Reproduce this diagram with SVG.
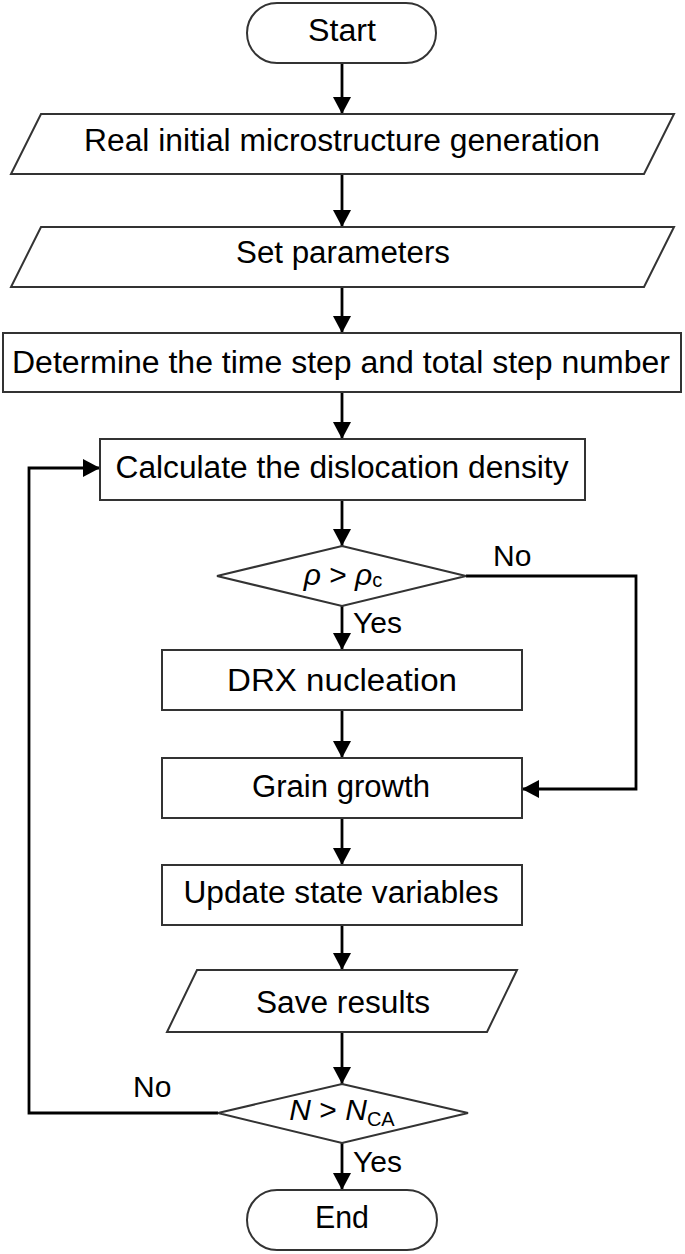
<svg xmlns="http://www.w3.org/2000/svg" width="685" height="1254" viewBox="0 0 685 1254">
<style>
.shape{fill:#fff;stroke:#333;stroke-width:2}
.t{font-family:"Liberation Sans",Arial,sans-serif;font-size:31px;fill:#000;text-anchor:middle}
.lbl{font-family:"Liberation Sans",Arial,sans-serif;font-size:30px;fill:#000}
.it{font-style:italic}
.sub{font-size:20px}
.c{fill:none;stroke:#000;stroke-width:2.8;marker-end:url(#ah)}
</style>
<defs>
<marker id="ah" markerUnits="userSpaceOnUse" markerWidth="17" markerHeight="18" refX="17" refY="9" orient="auto">
<path d="M0,0 L17,9 L0,18 z" fill="#000"/>
</marker>
</defs>
<rect width="685" height="1254" fill="#fff"/>
<g id="connectors">
<line class="c" x1="342" y1="63" x2="342" y2="114"/>
<line class="c" x1="342" y1="174" x2="342" y2="227"/>
<line class="c" x1="342" y1="287" x2="342" y2="333"/>
<line class="c" x1="342" y1="392" x2="342" y2="439"/>
<line class="c" x1="342" y1="500" x2="342" y2="546"/>
<line class="c" x1="342" y1="606" x2="342" y2="650"/>
<line class="c" x1="342" y1="710" x2="342" y2="758"/>
<line class="c" x1="342" y1="818" x2="342" y2="865"/>
<line class="c" x1="342" y1="925" x2="342" y2="970"/>
<line class="c" x1="342" y1="1032" x2="342" y2="1084"/>
<line class="c" x1="342" y1="1143" x2="342" y2="1190"/>
<polyline class="c" points="466,576 636,576 636,789 522,789"/>
<polyline class="c" points="218,1113 29,1113 29,468 100,468"/>
<text class="lbl" x="493" y="566">No</text>
<text class="lbl" x="353" y="633">Yes</text>
<text class="lbl" x="133" y="1097">No</text>
<text class="lbl" x="353" y="1172">Yes</text>
</g>
<g id="start">
<rect class="shape" x="247" y="3" width="189" height="60" rx="30" ry="30"/>
<text class="t" x="342" y="41" textLength="68" lengthAdjust="spacingAndGlyphs">Start</text>
</g>
<g id="microstructure">
<polygon class="shape" points="41,114 674,114 644,174 11,174"/>
<text class="t" x="342" y="151" textLength="516" lengthAdjust="spacingAndGlyphs">Real initial microstructure generation</text>
</g>
<g id="parameters">
<polygon class="shape" points="41,227 674,227 644,287 11,287"/>
<text class="t" x="343" y="263" textLength="214" lengthAdjust="spacingAndGlyphs">Set parameters</text>
</g>
<g id="timestep">
<rect class="shape" x="3" y="333" width="678" height="59"/>
<text class="t" x="341" y="373" textLength="658" lengthAdjust="spacingAndGlyphs">Determine the time step and total step number</text>
</g>
<g id="dislocation">
<rect class="shape" x="100" y="439" width="485" height="61"/>
<text class="t" x="342" y="478" textLength="453" lengthAdjust="spacingAndGlyphs">Calculate the dislocation density</text>
</g>
<g id="decision1">
<polygon class="shape" points="342,546 466,576 342,606 217,576"/>
<text class="lbl" x="343" y="585" text-anchor="middle"><tspan class="it">ρ</tspan> &gt; <tspan class="it">ρ</tspan><tspan class="sub" dy="2">c</tspan></text>
</g>
<g id="drx">
<rect class="shape" x="162" y="650" width="360" height="60"/>
<text class="t" x="342" y="691" textLength="230" lengthAdjust="spacingAndGlyphs">DRX nucleation</text>
</g>
<g id="grain">
<rect class="shape" x="162" y="758" width="360" height="60"/>
<text class="t" x="341" y="797" textLength="178" lengthAdjust="spacingAndGlyphs">Grain growth</text>
</g>
<g id="update">
<rect class="shape" x="162" y="865" width="360" height="60"/>
<text class="t" x="341" y="903" textLength="315" lengthAdjust="spacingAndGlyphs">Update state variables</text>
</g>
<g id="save">
<polygon class="shape" points="197,970 517,970 487,1032 167,1032"/>
<text class="t" x="343" y="1013" textLength="174" lengthAdjust="spacingAndGlyphs">Save results</text>
</g>
<g id="decision2">
<polygon class="shape" points="342,1084 468,1113 342,1143 218,1113"/>
<text class="lbl" x="342" y="1120" text-anchor="middle"><tspan class="it">N</tspan> &gt; <tspan class="it">N</tspan><tspan class="sub" dy="6">CA</tspan></text>
</g>
<g id="end">
<rect class="shape" x="247" y="1190" width="190" height="60" rx="30" ry="30"/>
<text class="t" x="342" y="1228" textLength="54" lengthAdjust="spacingAndGlyphs">End</text>
</g>
</svg>
